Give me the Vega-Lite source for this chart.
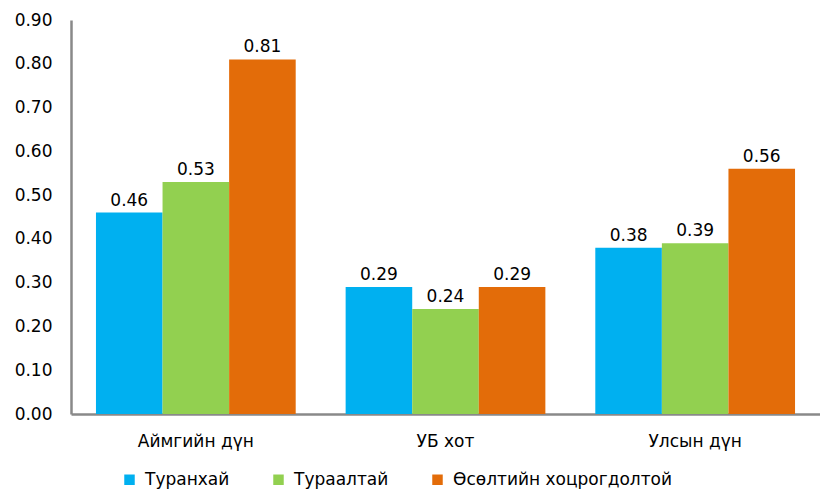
{
  "$schema": "https://vega.github.io/schema/vega-lite/v6.json",
  "autosize": "none",
  "padding": {"left": 71, "top": 20, "right": 0, "bottom": 75},
  "width": 749,
  "height": 394,
  "background": "white",
  "config": {"view": {"stroke": null}, "font": "DejaVu Sans"},
  "data": {"values": [
    {"region": "Аймгийн дүн", "series": "Туранхай", "value": 0.46},
    {"region": "Аймгийн дүн", "series": "Тураалтай", "value": 0.53},
    {"region": "Аймгийн дүн", "series": "Өсөлтийн хоцрогдолтой", "value": 0.81},
    {"region": "УБ хот", "series": "Туранхай", "value": 0.29},
    {"region": "УБ хот", "series": "Тураалтай", "value": 0.24},
    {"region": "УБ хот", "series": "Өсөлтийн хоцрогдолтой", "value": 0.29},
    {"region": "Улсын дүн", "series": "Туранхай", "value": 0.38},
    {"region": "Улсын дүн", "series": "Тураалтай", "value": 0.39},
    {"region": "Улсын дүн", "series": "Өсөлтийн хоцрогдолтой", "value": 0.56}
  ]},
  "encoding": {
    "x": {"field": "region", "type": "nominal", "sort": null,
      "scale": {"paddingInner": 0.2, "paddingOuter": 0.1},
      "axis": {"title": null, "labelAngle": 0, "ticks": false, "labelFontSize": 17, "labelColor": "#000", "labelPadding": 19, "domainColor": "#898989", "domainWidth": 2.5}},
    "xOffset": {"field": "series", "type": "nominal", "sort": ["Туранхай", "Тураалтай", "Өсөлтийн хоцрогдолтой"]},
    "y": {"field": "value", "type": "quantitative",
      "scale": {"domain": [0, 0.9], "nice": false},
      "axis": {"title": null, "values": [0, 0.1, 0.2, 0.3, 0.4, 0.5, 0.6, 0.7, 0.8, 0.9], "format": ".2f", "grid": false, "ticks": false, "labelFontSize": 17, "labelColor": "#000", "labelPadding": 19, "domainColor": "#898989", "domainWidth": 2.5}}
  },
  "layer": [
    {"mark": {"type": "bar"},
      "encoding": {
        "color": {"field": "series", "type": "nominal",
          "sort": ["Туранхай", "Тураалтай", "Өсөлтийн хоцрогдолтой"],
          "scale": {"domain": ["Туранхай", "Тураалтай", "Өсөлтийн хоцрогдолтой"], "range": ["#00B0F0", "#92D050", "#E36C09"]},
          "legend": {"title": null, "orient": "none", "direction": "horizontal", "legendX": 50, "legendY": 451, "symbolType": "square", "symbolSize": 110, "symbolStrokeWidth": 0, "labelFontSize": 17, "labelColor": "#000", "columnPadding": 40, "labelOffset": 7, "labelLimit": 400}
        }
      }
    },
    {"mark": {"type": "text", "baseline": "bottom", "dy": -3, "fontSize": 17, "color": "#000"},
      "encoding": {"text": {"field": "value", "type": "quantitative", "format": ".2f"}}
    }
  ]
}
